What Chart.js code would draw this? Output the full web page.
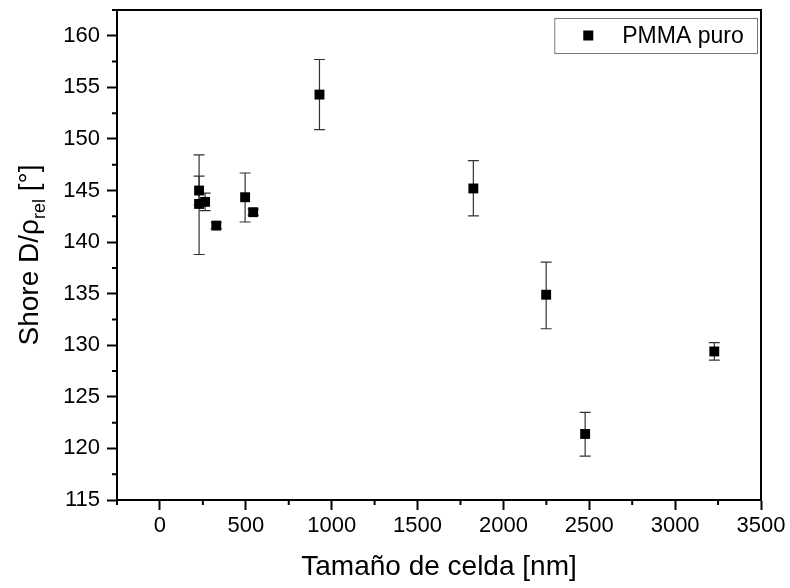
<!DOCTYPE html>
<html><head><meta charset="utf-8">
<script src="https://cdn.jsdelivr.net/npm/chart.js@4.4.0/dist/chart.umd.min.js"></script>
<style>html,body{margin:0;padding:0;background:#fff}#wrap{width:790px;height:588px;position:relative}</style>
</head><body><div id="wrap"><canvas id="c"></canvas></div>
<script>
const seriesName = 'PMMA puro';
const cellSize = [228, 228, 263, 328, 496, 543, 929, 1825, 2249, 2476, 3228];
const shoreD   = [145.0, 143.7, 143.9, 141.6, 144.35, 142.9, 154.3, 145.2, 134.9, 121.4, 129.4];
const errPlus  = [1.4, 4.75, 0.85, 0.3, 2.35, 0.3, 3.4, 2.7, 3.15, 2.1, 0.85];
const errMinus = [1.4, 4.9, 0.85, 0.3, 2.4, 0.3, 3.4, 2.65, 3.3, 2.15, 0.85];
const xTicks = [0, 500, 1000, 1500, 2000, 2500, 3000, 3500];
const xMinorTicks = [-250, 250, 750, 1250, 1750, 2250, 2750, 3250];
const yTicks = [115, 120, 125, 130, 135, 140, 145, 150, 155, 160];
const yMinorTicks = [117.5, 122.5, 127.5, 132.5, 137.5, 142.5, 147.5, 152.5, 157.5, 162.5];
const xTitle = 'Tamaño de celda [nm]';
const yTitle = 'Shore D/ρrel [°]';

const FONT = 'Liberation Sans, Arial, sans-serif';

const errorBars = {
  id: 'errorBars',
  beforeDatasetsDraw(chart) {
    const ctx = chart.ctx, xs = chart.scales.x, ys = chart.scales.y;
    ctx.save();
    ctx.strokeStyle = '#333';
    ctx.lineWidth = 1.2;
    cellSize.forEach((xv, i) => {
      const px = xs.getPixelForValue(xv);
      const top = ys.getPixelForValue(shoreD[i] + errPlus[i]);
      const bot = ys.getPixelForValue(shoreD[i] - errMinus[i]);
      const cw = 5.5;
      ctx.beginPath();
      ctx.moveTo(px, top); ctx.lineTo(px, bot);
      ctx.moveTo(px - cw, top); ctx.lineTo(px + cw, top);
      ctx.moveTo(px - cw, bot); ctx.lineTo(px + cw, bot);
      ctx.stroke();
    });
    ctx.restore();
  }
};

const decorations = {
  id: 'decorations',
  afterDraw(chart) {
    const ctx = chart.ctx, a = chart.chartArea, xs = chart.scales.x, ys = chart.scales.y;
    ctx.save();
    ctx.strokeStyle = '#000';
    ctx.lineWidth = 2;
    ctx.beginPath();
    xMinorTicks.forEach(v => { const p = xs.getPixelForValue(v); ctx.moveTo(p, a.bottom); ctx.lineTo(p, a.bottom + 5); });
    yMinorTicks.forEach(v => { const p = ys.getPixelForValue(v); ctx.moveTo(a.left, p); ctx.lineTo(a.left - 5, p); });
    ctx.stroke();
    ctx.lineWidth = 2;
    ctx.strokeRect(a.left, a.top, a.right - a.left, a.bottom - a.top);
    // legend
    const lx = a.left + (a.right - a.left) * 0.679, ly = a.top + 8, lw = a.right - 4 - lx, lh = 35;
    ctx.lineWidth = 1;
    ctx.strokeStyle = '#777';
    ctx.fillStyle = '#fff';
    ctx.fillRect(lx, ly, lw, lh);
    ctx.strokeRect(lx + 0.5, ly + 0.5, lw, lh);
    ctx.fillStyle = '#000';
    ctx.fillRect(lx + 29, ly + lh / 2 - 5, 10, 10);
    ctx.font = '23px ' + FONT;
    ctx.textBaseline = 'middle';
    ctx.textAlign = 'left';
    ctx.fillText(chart.data.datasets[0].label, lx + 68, ly + lh / 2 + 1);
    // y title with subscript
    const parts = [
      {t: 'Shore D/ρ', s: 28, dy: 0},
      {t: 'rel', s: 18, dy: 7},
      {t: ' [°]', s: 28, dy: 0}
    ];
    let total = 0;
    parts.forEach(p => { ctx.font = p.s + 'px ' + FONT; p.w = ctx.measureText(p.t).width; total += p.w; });
    ctx.translate(28, (a.top + a.bottom) / 2);
    ctx.rotate(-Math.PI / 2);
    let cx = -total / 2;
    ctx.textBaseline = 'alphabetic';
    parts.forEach(p => { ctx.font = p.s + 'px ' + FONT; ctx.fillText(p.t, cx, 10 + p.dy); cx += p.w; });
    ctx.restore();
  }
};

new Chart(document.getElementById('c'), {
  type: 'scatter',
  data: {
    datasets: [{
      label: seriesName,
      data: cellSize.map((x, i) => ({x, y: shoreD[i]})),
      pointStyle: 'rect',
      pointRadius: 7,
      pointHoverRadius: 7,
      backgroundColor: '#000',
      borderColor: '#000',
      borderWidth: 0
    }]
  },
  options: {
    responsive: true,
    maintainAspectRatio: false,
    animation: false,
    events: [],
    layout: {padding: {left: 0, right: 29, top: 10, bottom: 0}},
    plugins: {legend: {display: false}, tooltip: {enabled: false}},
    scales: {
      x: {
        type: 'linear', min: -250, max: 3500,
        afterBuildTicks: s => { s.ticks = xTicks.map(v => ({value: v})); },
        afterFit: s => { s.height = 88; s.paddingLeft = 0; s.paddingRight = 0; },
        ticks: {color: '#000', font: {family: FONT, size: 22}, padding: 3, callback: v => String(v), maxRotation: 0, autoSkip: false},
        grid: {drawOnChartArea: false, drawTicks: true, tickLength: 10, tickColor: '#000', tickWidth: 2},
        border: {display: true, color: '#000', width: 2},
        title: {display: true, text: xTitle, color: '#000', font: {family: FONT, size: 28}, padding: {top: 4, bottom: 4}}
      },
      y: {
        type: 'linear', min: 115, max: 162.5,
        afterBuildTicks: s => { s.ticks = yTicks.map(v => ({value: v})); },
        afterFit: s => { s.width = 117; s.paddingTop = 0; s.paddingBottom = 0; },
        ticks: {color: '#000', font: {family: FONT, size: 22}, padding: 7, callback: v => String(v), autoSkip: false},
        grid: {drawOnChartArea: false, drawTicks: true, tickLength: 10, tickColor: '#000', tickWidth: 2},
        border: {display: true, color: '#000', width: 2},
        title: {display: true, text: yTitle, color: 'rgba(0,0,0,0)', font: {family: FONT, size: 28}}
      }
    }
  },
  plugins: [errorBars, decorations]
});
</script></body></html>
